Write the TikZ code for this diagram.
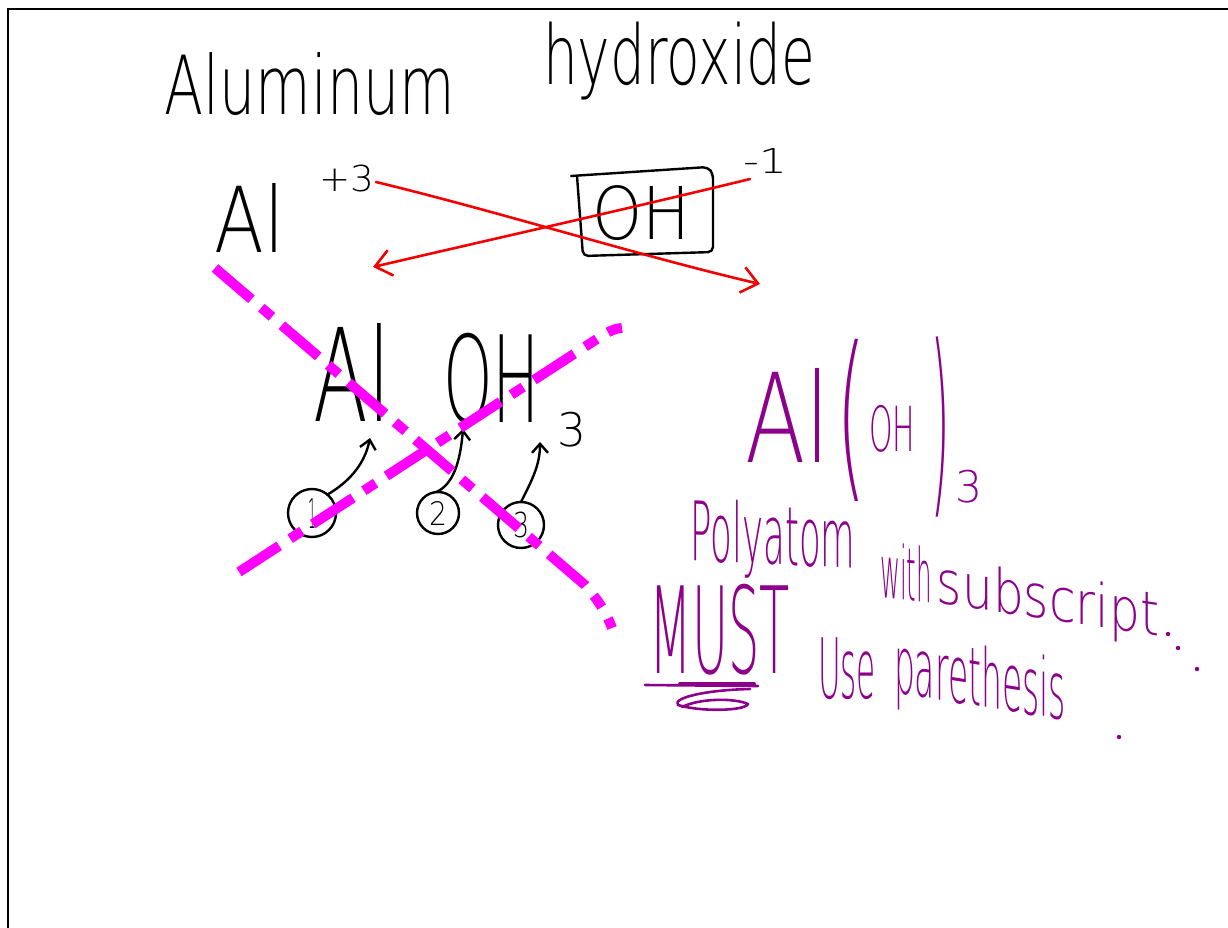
\documentclass[tikz,border=0pt]{standalone}
\usepackage{fontspec}
\usepackage{graphicx}
\IfFontExistsTF{DejaVu Sans ExtraLight}{\setmainfont{DejaVu Sans ExtraLight}}{\setmainfont{Carlito}}
\usetikzlibrary{arrows.meta}
\definecolor{penred}{RGB}{245,0,0}
\definecolor{penmag}{RGB}{255,0,255}
\definecolor{penpurple}{RGB}{140,0,140}
\newcommand{\hw}[3]{\resizebox*{#1pt}{#2pt}{#3}}
\begin{document}
\begin{tikzpicture}[x=1pt,y=-1pt,
  ink/.style={draw=black,line width=2.4pt,line cap=round,line join=round},
  purpink/.style={draw=penpurple,line width=2.6pt,line cap=round,line join=round},
  redink/.style={draw=penred,line width=2.6pt,line cap=round,line join=round},
  hilite/.style={draw=penmag,line width=10pt,dash pattern=on 48pt off 13pt on 14pt off 13pt},
  bt/.style={inner sep=0pt,outer sep=0pt,text=black},
  ptx/.style={inner sep=0pt,outer sep=0pt,text=penpurple},
  ring/.style={draw=black,line width=2.4pt,circle,inner sep=0pt,outer sep=0pt,text=black},
  barb/.style={-{Straight Barb[length=9pt,width=16pt]}},
  bigbarb/.style={-{Straight Barb[length=16pt,width=26pt]}}
]
\useasboundingbox (0,0) rectangle (1228,928);
\fill[white] (0,0) rectangle (1228,928);
\draw[black,line width=2pt] (8,928) -- (8,9) -- (1228,9);

% title
\node[bt] (alum) at (310,84) {\hw{290}{63}{Aluminum}};
\node[bt] (hydr) at (679,61) {\hw{272}{78}{hydroxide}};

% ions
\node[bt] (al1) at (250,218) {\hw{70}{69}{Al}};
\node[bt] (plus3) at (347,179) {\hw{55}{27}{+3}};
\node[bt] (oh1) at (641,213) {\hw{98}{55}{OH}};
\node[bt] (min1) at (765,161) {\hw{44}{25}{-1}};
\draw[ink,rounded corners=5pt] (571,176) -- (708,167) -- (713,174) -- (713,252) -- (583,256) -- (577,176);

% red criss-cross arrows
\coordinate (r1s) at (376,182);
\coordinate (r1e) at (760,284);
\coordinate (r2s) at (750,179);
\coordinate (r2e) at (373,267);
\draw[redink,bigbarb] (r1s) .. controls (500,212) and (640,256) .. (r1e);
\draw[redink,bigbarb] (r2s) .. controls (640,206) and (480,242) .. (r2e);

% crossed-out formula
\node[bt] (al2) at (352.5,372) {\hw{77}{98}{Al}};
\node[bt] (oh2) at (491.5,378.5) {\hw{97}{91}{OH}};
\node[bt] (sub3) at (571.5,429.5) {\hw{29}{35}{3}};
\node[ring,minimum size=48pt] (c1) at (312,513) {\hw{8}{30}{1}};
\node[ring,minimum size=42pt] (c2) at (438,513) {\hw{18}{24}{2}};
\node[ring,minimum size=46pt] (c3) at (521,525) {\hw{16}{26}{3}};
\draw[ink,barb] (c1.50) .. controls (352,480) and (365,462) .. (370,438);
\draw[ink,barb] (c2.95) .. controls (452,485) and (460,465) .. (463,429);
\draw[ink,barb] (c3.90) .. controls (532,480) and (540,465) .. (540,442);

% magenta cross-out
\coordinate (m1s) at (215,268);
\coordinate (m1e) at (612,628);
\coordinate (m2s) at (239,572);
\coordinate (m2e) at (622,328);
\draw[hilite] (m1s) -- (585,585) .. controls (598,600) and (606,612) .. (m1e);
\draw[hilite] (m2s) -- (600,337) .. controls (608,332) and (615,328) .. (m2e);

% purple formula
\node[ptx] (al3) at (787.5,415) {\hw{85}{94}{Al}};
\node[ptx] (lp) at (851,420) {\hw{30}{162}{(}};
\node[ptx] (oh3) at (892,428.5) {\hw{46}{47}{OH}};
\node[ptx] (rp) at (940,427) {\hw{20}{180}{)}};
\node[ptx] (s3) at (968.5,486.5) {\hw{27}{33}{3}};

% purple notes
\node[ptx,yslant=-0.05] (poly) at (773,541) {\hw{165}{78}{Polyatom}};
\node[ptx,yslant=-0.1] (with) at (906,572) {\hw{52}{56}{with}};
\node[ptx,yslant=-0.15] (subs) at (1048,603) {\hw{222}{58}{subscript}};
\fill[penpurple] (1168,634) circle (2.2pt) (1178,648) circle (2.2pt) (1197,669) circle (2.2pt) (1119,737) circle (2.2pt);
\node[ptx] (must) at (720,630) {\hw{140}{91}{MUST}};
\node[ptx] (use) at (847,669) {\hw{58}{62}{Use}};
\node[ptx,yslant=-0.16] (paren) at (980,684) {\hw{172}{78}{parethesis}};
\draw[purpink] (645,685) -- (758,686);
\draw[purpink,line width=4pt] (680,684) -- (754,684);
\draw[purpink] (750,689) .. controls (705,690) and (672,698) .. (678,705) .. controls (700,712) and (745,711) .. (748,704) .. controls (735,698) and (700,698) .. (682,707);
\end{tikzpicture}
\end{document}
